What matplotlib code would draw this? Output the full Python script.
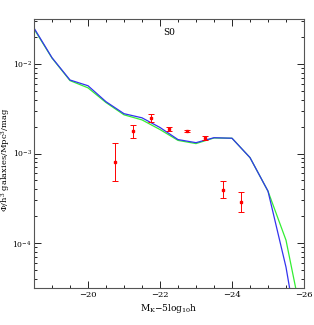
import matplotlib
matplotlib.use('Agg')
import matplotlib.pyplot as plt
from matplotlib.ticker import MultipleLocator, LogLocator, NullFormatter

plt.rcParams['font.family'] = ['DejaVu Serif']
plt.rcParams['mathtext.fontset'] = 'dejavuserif'

# Model curves (two variants)
mag_model = [-18.5, -19.0, -19.5, -20.0, -20.5, -21.0, -21.5, -22.0, -22.5, -23.0, -23.5, -24.0, -24.5, -25.0, -25.5, -26.0]
phi_blue = [0.0251, 0.0117, 6.6e-3, 5.7e-3, 3.78e-3, 2.78e-3, 2.5e-3, 1.95e-3, 1.43e-3, 1.32e-3, 1.5e-3, 1.48e-3, 9.0e-4, 3.8e-4, 5.4e-5, 3.7e-6]
phi_green = [0.0245, 0.0116, 6.5e-3, 5.4e-3, 3.7e-3, 2.7e-3, 2.37e-3, 1.85e-3, 1.4e-3, 1.29e-3, 1.49e-3, 1.48e-3, 9.0e-4, 3.8e-4, 1.08e-4, 1.1e-5]

# Observed points with error bars
mag_obs = [-20.75, -21.25, -21.75, -22.25, -22.75, -23.25, -23.75, -24.25]
phi_obs = [8.1e-4, 1.76e-3, 2.51e-3, 1.9e-3, 1.8e-3, 1.47e-3, 3.88e-4, 2.85e-4]
phi_hi = [1.32e-3, 2.1e-3, 2.78e-3, 2.0e-3, 1.85e-3, 1.55e-3, 4.89e-4, 3.69e-4]
phi_lo = [4.9e-4, 1.47e-3, 2.27e-3, 1.8e-3, 1.75e-3, 1.4e-3, 3.16e-4, 2.21e-4]

err_low = [p - l for p, l in zip(phi_obs, phi_lo)]
err_high = [h - p for p, h in zip(phi_obs, phi_hi)]

fig = plt.figure(figsize=(3.14, 3.25), dpi=100)
ax = fig.add_axes([34 / 314, 1 - 288 / 325, 270 / 314, 269 / 325])

ax.plot(mag_model, phi_green, color='#33ee33', lw=0.9)
ax.plot(mag_model, phi_blue, color='#3333ee', lw=0.9)
ax.errorbar(mag_obs, phi_obs, yerr=[err_low, err_high], fmt='s', color='red',
            ms=2, elinewidth=0.7, capsize=2, capthick=0.7)

ax.set_yscale('log')
ax.set_xlim(-18.5, -26)
ax.set_ylim(10 ** -4.5, 10 ** -1.5)

ax.xaxis.set_major_locator(MultipleLocator(2))
ax.xaxis.set_minor_locator(MultipleLocator(0.5))
ax.yaxis.set_major_locator(LogLocator(base=10))
ax.yaxis.set_minor_locator(LogLocator(base=10, subs=range(2, 10)))
ax.yaxis.set_minor_formatter(NullFormatter())
ax.tick_params(which='both', direction='in', top=True, right=True, labelsize=6, width=0.6, pad=2)
ax.tick_params(axis='y', labelsize=5.5, pad=1.5)
ax.tick_params(which='major', length=5)
ax.tick_params(which='minor', length=2.5)
ax.xaxis.set_major_formatter(plt.FuncFormatter(lambda v, p: '\u2212%d' % abs(v) if v < 0 else '%d' % v))
for s in ax.spines.values():
    s.set_linewidth(0.8)
    s.set_color('#555555')

ax.text(0.5, 0.948, 'S0', transform=ax.transAxes, ha='center', va='center', fontsize=6.5)
ax.set_xlabel(r'M$_{\rm K}$$-$5log$_{10}$h', fontsize=6.5, labelpad=2)
fig.text(6.5 / 314, 1 - 160 / 325, r'$\Phi$/h$^3$ galaxies/Mpc$^3$/mag', fontsize=6,
         rotation=90, ha='center', va='center')

fig.savefig('out.png', dpi=100)
